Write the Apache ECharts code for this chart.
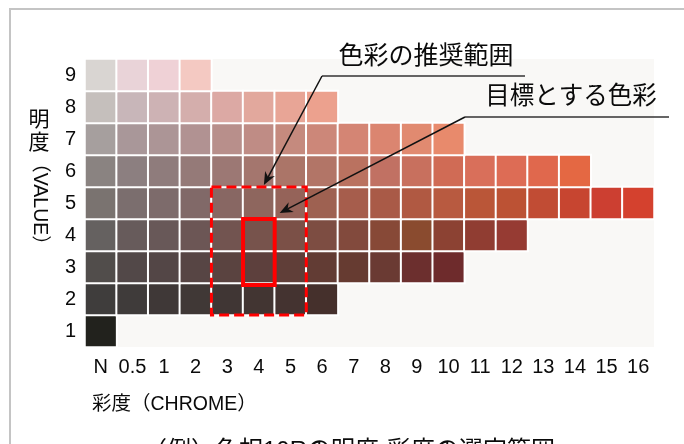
<!DOCTYPE html>
<html>
<head>
<meta charset="utf-8">
<script src="https://cdn.jsdelivr.net/npm/echarts@6/dist/echarts.min.js"></script>
<style>html,body{margin:0;padding:0;background:#fff;}#c{width:684px;height:444px;}</style>
</head>
<body>
<div id="c"></div>
<script>
// Chroma (x) categories and value (y) categories
var chromaLabels = ['N','0.5','1','2','3','4','5','6','7','8','9','10','11','12','13','14','15','16'];
var valueLabels = ['1','2','3','4','5','6','7','8','9'];

// Colour chips per value row, starting from N
var value9 = ['#d9d5d2','#e9d3d8','#efd1d6','#f4c9c2'];
var value8 = ['#c5bfbc','#c8b6b9','#cdb2b4','#d4aeac','#dca9a4','#e2a89d','#e8a596','#eca18e'];
var value7 = ['#a69f9e','#a99799','#ac9596','#b19292','#b88f8b','#bf8c85','#c58a7e','#cc8779','#d48574','#db8570','#e18a70','#e88a6c'];
var value6 = ['#8a8381','#8c7f80','#8f7c7c','#957a78','#9c7874','#a4766e','#ab7568','#b27567','#ba7260','#c17163','#c8705e','#d06b55','#d96f5a','#dd6c55','#e0684d','#e46843'];
var value5 = ['#7a7370','#7b6e6e','#7d6b6b','#816968','#886763','#8e665e','#956359','#9e6151','#a65d4c','#a95a47','#b05942','#b85a40','#ba5638','#bc5234','#c14c34','#c74530','#cc3f31','#d4412e'];
var value4 = ['#656160','#675b5b','#685858','#6c5655','#725450','#77534c','#7b5047','#7d4d42','#824a3d','#874937','#8a4b2f','#8c4233','#903d32','#963b33'];
var value3 = ['#514d4b','#524848','#534646','#574544','#5a4340','#5d403d','#603e38','#623c34','#663b31','#6a3a33','#6c2f2e','#6e2b2c'];
var value2 = ['#3f3d3c','#3f3b3a','#3f3837','#403836','#403634','#423532','#443330','#45302c'];
var value1 = ['#22221d'];

var rows = [value1, value2, value3, value4, value5, value6, value7, value8, value9];

// Annotation texts
var labelRange = '色彩の推奨範囲';
var labelTarget = '目標とする色彩';
var rangeChroma = ['3','5'];
var rangeValue = ['2','5'];
var targetChroma = '4';
var targetValue = ['3','4'];
var yName1 = '明', yName2 = '度', yName3 = '（VALUE）';
var xName = '彩度（CHROME）';
var caption = '（例）色相10Rの明度-彩度の選定範囲';

var data = [];
rows.forEach(function (cols, r) {
  cols.forEach(function (col, i) {
    data.push({ value: [i, r, 1], itemStyle: { color: col } });
  });
});

var FONT = "'Liberation Sans', 'Noto Sans CJK JP', sans-serif";
var chart = echarts.init(document.getElementById('c'), null, { renderer: 'canvas' });

chart.setOption({
  animation: false,
  backgroundColor: '#ffffff',
  grid: { left: 85, right: 30, top: 59, bottom: 97, show: true, backgroundColor: '#f9f8f6', borderWidth: 0 },
  xAxis: {
    type: 'category', data: chromaLabels,
    axisLine: { show: false }, axisTick: { show: false }, splitLine: { show: false },
    axisLabel: { color: '#0a0a0a', fontSize: 20, fontFamily: FONT, margin: 10, interval: 0 }
  },
  yAxis: {
    type: 'category', data: valueLabels,
    axisLine: { show: false }, axisTick: { show: false }, splitLine: { show: false },
    axisLabel: { color: '#0a0a0a', fontSize: 20, fontFamily: FONT, margin: 9 }
  },
  series: [{
    type: 'heatmap', data: data,
    itemStyle: { borderColor: '#ffffff', borderWidth: 2 },
    emphasis: { disabled: true }
  }]
});

function px(cx, vy) {
  return chart.convertToPixel({ xAxisIndex: 0, yAxisIndex: 0 }, [chromaLabels.indexOf(cx), valueLabels.indexOf(vy)]);
}
var bw = 569 / chromaLabels.length, bh = 288 / valueLabels.length;

function arrow(x1, y1, x2, y2) {
  var dx = x2 - x1, dy = y2 - y1, L = Math.sqrt(dx * dx + dy * dy);
  var ux = dx / L, uy = dy / L, nx = -uy, ny = ux;
  var len = 13, w = 5.5, notch = 9;
  var bx = x2 - ux * len, by = y2 - uy * len;
  var mx = x2 - ux * notch, my = y2 - uy * notch;
  return [
    { type: 'line', shape: { x1: x1, y1: y1, x2: mx, y2: my }, style: { stroke: '#111', lineWidth: 1.5 }, z: 10 },
    { type: 'polygon', shape: { points: [[x2, y2], [bx + nx * w, by + ny * w], [mx, my], [bx - nx * w, by - ny * w]] }, style: { fill: '#111' }, z: 10 }
  ];
}

var p3 = px(rangeChroma[0], rangeValue[1]);
var p5 = px(rangeChroma[1], rangeValue[0]);
var dashed = { x: p3[0] - bw / 2, y: p3[1] - bh / 2, w: (p5[0] - p3[0]) + bw, h: (p5[1] - p3[1]) + bh };
var t4 = px(targetChroma, targetValue[1]);
var t3 = px(targetChroma, targetValue[0]);
var solid = { x: t4[0] - bw / 2, y: t4[1] - bh / 2, w: bw, h: (t3[1] - t4[1]) + bh + 2 };

var g = [
  { type: 'rect', shape: { x: 10, y: 9, width: 700, height: 500 }, style: { fill: 'none', stroke: '#c4c4c4', lineWidth: 2 }, z: 1 },
  { type: 'rect', shape: { x: dashed.x, y: dashed.y, width: dashed.w, height: dashed.h }, style: { fill: 'none', stroke: '#ff0000', lineWidth: 3, lineDash: [10, 5] }, z: 8 },
  { type: 'rect', shape: { x: solid.x, y: solid.y, width: solid.w, height: solid.h }, style: { fill: 'none', stroke: '#ff0000', lineWidth: 4 }, z: 9 },
  { type: 'text', x: 426, y: 57, style: { text: labelRange, fontSize: 25, fontFamily: FONT, fill: '#0a0a0a', align: 'center', verticalAlign: 'middle' }, z: 10 },
  { type: 'line', shape: { x1: 322, y1: 76, x2: 525, y2: 76 }, style: { stroke: '#333', lineWidth: 1.5 }, z: 10 },
  { type: 'text', x: 571, y: 97, style: { text: labelTarget, fontSize: 24.5, fontFamily: FONT, fill: '#0a0a0a', align: 'center', verticalAlign: 'middle' }, z: 10 },
  { type: 'line', shape: { x1: 465, y1: 117, x2: 669, y2: 117 }, style: { stroke: '#333', lineWidth: 1.5 }, z: 10 },
  { type: 'text', x: 39, y: 120, style: { text: yName1, fontSize: 21, fontFamily: FONT, fill: '#0a0a0a', align: 'center', verticalAlign: 'middle' }, z: 10 },
  { type: 'text', x: 39, y: 143, style: { text: yName2, fontSize: 21, fontFamily: FONT, fill: '#0a0a0a', align: 'center', verticalAlign: 'middle' }, z: 10 },
  { type: 'text', x: 39, y: 204, rotation: -Math.PI / 2, style: { text: yName3, fontSize: 19.5, fontFamily: FONT, fill: '#0a0a0a', align: 'center', verticalAlign: 'middle' }, z: 10 },
  { type: 'text', x: 92, y: 405, style: { text: xName, fontSize: 19.5, fontFamily: FONT, fill: '#0a0a0a', align: 'left', verticalAlign: 'middle' }, z: 10 },
  { type: 'text', x: 349, y: 439, style: { text: caption, fontSize: 24, fontFamily: FONT, fill: '#0a0a0a', align: 'center', verticalAlign: 'top' }, z: 10 }
];
var tip1x = px(targetChroma, rangeValue[1])[0] + 5, tip1y = dashed.y - 2;
g = g.concat(arrow(322, 76, tip1x, tip1y));
g = g.concat(arrow(465, 117, solid.x + solid.w + 5, solid.y - 6));

chart.setOption({ graphic: g });
</script>
</body>
</html>
